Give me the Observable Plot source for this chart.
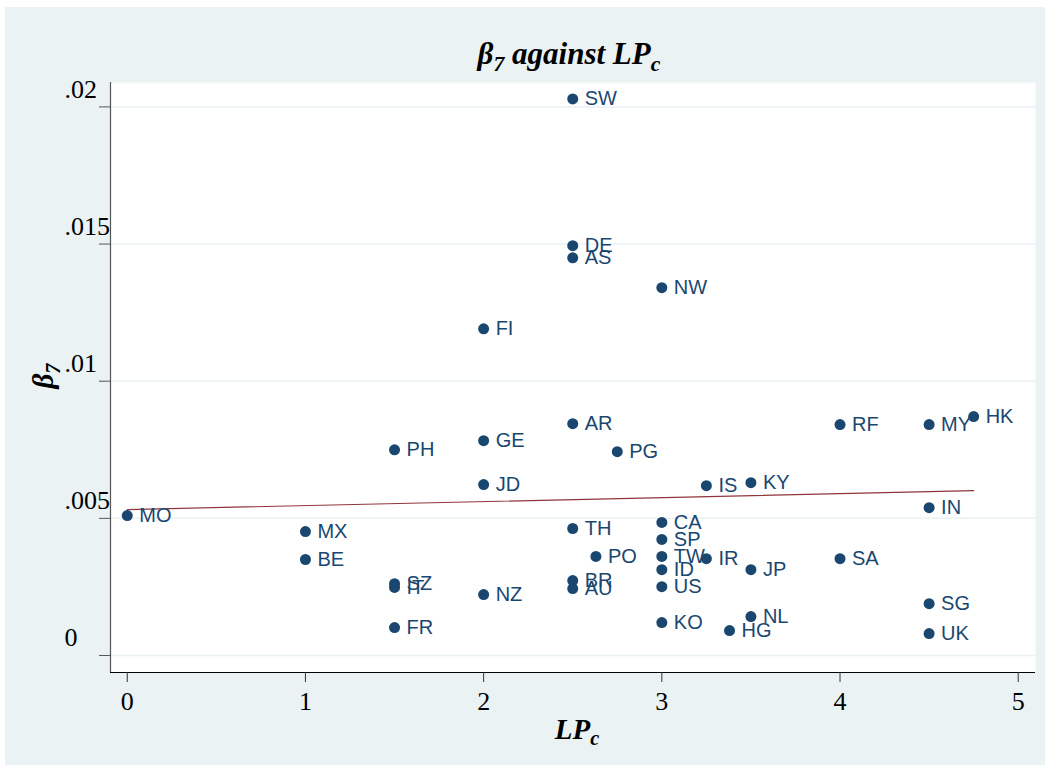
<!DOCTYPE html>
<html>
<head>
<meta charset="utf-8">
<script src="https://cdn.jsdelivr.net/npm/d3@7"></script>
<script src="https://cdn.jsdelivr.net/npm/@observablehq/plot@0.6"></script>
<style>
  html, body { margin: 0; padding: 0; background: #ffffff; }
  #wrap { position: relative; width: 1050px; height: 772px; }
  #bg { position: absolute; left: 5px; top: 7px; width: 1040px; height: 758px; background: #eaf2f3; }
  #chart { position: absolute; left: 0; top: 0; }
  .ttl { position: absolute; font-family: "Liberation Serif", "Times New Roman", serif; font-weight: bold; font-style: italic; color: #000; white-space: nowrap; }
  .ttl sub { font-size: 0.7em; vertical-align: -0.3em; }
</style>
</head>
<body>
<div id="wrap">
  <div id="bg"></div>
  <div id="chart"></div>
  <div class="ttl" id="title" style="left:0; width:1138px; text-align:center; top:36px; font-size:31px;">β<sub>7</sub> against LP<sub>c</sub></div>
  <div class="ttl" id="xtitle" style="left:0; width:1154px; text-align:center; top:713px; font-size:29px;">LP<sub>c</sub></div>
  <div class="ttl" id="ytitle" style="left:46px; top:376px; font-size:29px; transform: translate(-50%,-50%) rotate(-90deg);">β<sub>7</sub></div>
</div>
<script>
// Data
const countries = ["MO","MX","BE","PH","SZ","IT","FR","GE","JD","NZ","FI","SW","DE","AS","AR","TH","BR","AU","PO","PG","NW","CA","SP","TW","ID","US","KO","IR","IS","KY","JP","NL","HG","RF","SA","MY","HK","IN","SG","UK"];
const lpc = [0,1,1,1.5,1.5,1.5,1.5,2,2,2,2,2.5,2.5,2.5,2.5,2.5,2.5,2.5,2.63,2.75,3,3,3,3,3,3,3,3.25,3.25,3.5,3.5,3.5,3.38,4,4,4.5,4.75,4.5,4.5,4.5];
const beta7 = [0.00510,0.00452,0.00350,0.00750,0.00262,0.00248,0.00102,0.00783,0.00623,0.00222,0.01191,0.02029,0.01494,0.01450,0.00845,0.00463,0.00273,0.00244,0.00361,0.00743,0.01341,0.00485,0.00423,0.00361,0.00313,0.00251,0.00120,0.00353,0.00619,0.00630,0.00313,0.00142,0.00091,0.00842,0.00353,0.00842,0.00871,0.00539,0.00189,0.00080];
const fitX = [0, 4.75];
const fitY = [0.00532, 0.00601];
const xTicks = [0,1,2,3,4,5];
const yTicks = [0,0.005,0.01,0.015,0.02];
const yTickLabels = ["0",".005",".01",".015",".02"];

const pts = countries.map((c,i) => ({c, x: lpc[i], y: beta7[i]}));
const fit = fitX.map((x,i) => ({x, y: fitY[i]}));
const yLab = yTicks.map((v,i) => ({v, t: yTickLabels[i]}));

const xDomain = [-0.094, 5.097];
const yDomain = [-0.00062, 0.02089];
const navy = "#1a476f";

const chart = Plot.plot({
  width: 1050,
  height: 772,
  marginLeft: 110,
  marginRight: 15,
  marginTop: 82,
  marginBottom: 100,
  style: { background: "transparent", overflow: "visible" },
  x: { domain: xDomain, label: null },
  y: { domain: yDomain, label: null },
  marks: [
    Plot.frame({ fill: "#ffffff", stroke: null }),
    Plot.gridY(yTicks, { stroke: "#eaf2f3", strokeOpacity: 1, strokeWidth: 1.5 }),
    Plot.ruleX([xDomain[0]], { stroke: "#555", strokeWidth: 1.2 }),
    Plot.ruleY([yDomain[0]], { stroke: "#000", strokeWidth: 1.2 }),
    Plot.axisX({ ticks: xTicks, label: null, tickSize: 10, tickPadding: 9, tickFormat: d => String(d), fontSize: 26, fontFamily: "Liberation Serif, serif", stroke: "#333", fill: "#000" }),
    Plot.axisY({ ticks: yTicks, label: null, tickSize: 11, tickFormat: () => "", stroke: "#555" }),
    Plot.text(yLab, { y: "v", text: "t", frameAnchor: "left", dx: -46, textAnchor: "start", lineAnchor: "bottom", dy: -9, fontSize: 26, fontFamily: "Liberation Serif, serif", fill: "#000" }),
    Plot.line(fit, { x: "x", y: "y", stroke: "#90353b", strokeWidth: 1.2 }),
    Plot.dot(pts, { x: "x", y: "y", r: 5.5, fill: navy, stroke: null }),
    Plot.text(pts, { x: "x", y: "y", text: "c", dx: 12, textAnchor: "start", fontSize: 20, fontFamily: "Liberation Sans, Arial, sans-serif", fill: navy })
  ]
});
document.getElementById("chart").appendChild(chart);
</script>
</body>
</html>
